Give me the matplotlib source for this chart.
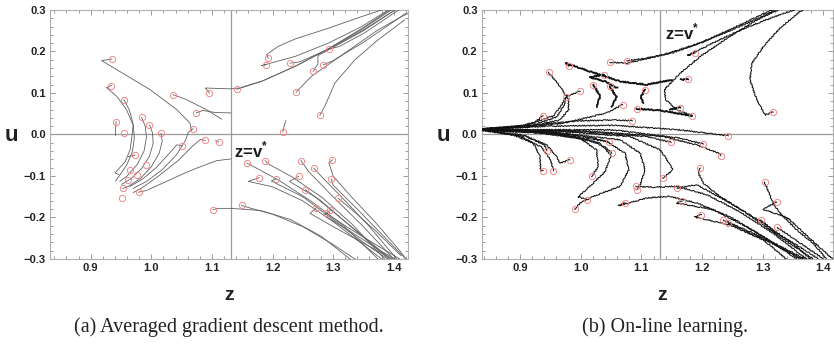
import matplotlib
matplotlib.use('Agg')
import matplotlib.pyplot as plt
from matplotlib.ticker import MultipleLocator, FuncFormatter

V_STAR = 1.131

# (a) averaged gradient descent: trajectories as (z, u) points, first point = start
gd_left_paths = [
    [(0.935, 0.182), (0.918, 0.178), (0.958, 0.143), (0.998, 0.108), (1.042, 0.060), (1.064, 0.027), (1.066, 0.010)],
    [(0.934, 0.118), (0.926, 0.113), (0.943, 0.092), (0.959, 0.060), (0.970, 0.023), (0.968, -0.005),
     (0.965, -0.037), (0.957, -0.065), (0.940, -0.093), (0.946, -0.096)],
    [(0.955, 0.084), (0.964, 0.058), (0.970, 0.025), (0.972, -0.008), (0.969, -0.040), (0.960, -0.072),
     (0.947, -0.100), (0.941, -0.112)],
    [(0.942, 0.031), (0.941, 0.012), (0.941, -0.002)],
    [(0.984, 0.041), (0.990, 0.020), (0.992, -0.006), (0.988, -0.040), (0.977, -0.072), (0.960, -0.100), (0.948, -0.113)],
    [(0.997, 0.023), (1.002, 0.004), (1.003, -0.022), (0.997, -0.052), (0.984, -0.082), (0.966, -0.107), (0.951, -0.120)],
    [(1.016, 0.003), (1.018, -0.016), (1.013, -0.045), (1.000, -0.078), (0.982, -0.106), (0.962, -0.125), (0.953, -0.130)],
    [(1.069, 0.014), (1.061, 0.005), (1.056, -0.015), (1.042, -0.048), (1.018, -0.085), (0.992, -0.113), (0.970, -0.130)],
    [(1.050, -0.027), (1.042, -0.025), (1.030, -0.045), (1.008, -0.080), (0.985, -0.108), (0.965, -0.125)],
    [(1.089, -0.014), (1.081, -0.012), (1.068, -0.028), (1.045, -0.062), (1.012, -0.100), (0.985, -0.128), (0.970, -0.140)],
    [(0.979, -0.139), (0.992, -0.135), (1.025, -0.113), (1.052, -0.095), (1.075, -0.081), (1.108, -0.063), (1.131, -0.059)],
    [(1.036, 0.096), (1.058, 0.084), (1.091, 0.060), (1.116, 0.037)],
    [(1.074, 0.052), (1.085, 0.058), (1.105, 0.053), (1.131, 0.052)],
    [(0.973, -0.050), (0.962, -0.053)],
    [(1.111, -0.018), (1.106, -0.015)],
]
gd_upper_paths = [
    [(1.193, 0.184), (1.190, 0.192), (1.209, 0.212), (1.237, 0.230), (1.292, 0.256), (1.347, 0.284), (1.380, 0.300)],
    [(1.189, 0.168), (1.182, 0.166), (1.237, 0.188), (1.292, 0.220), (1.347, 0.260), (1.391, 0.300)],
    [(1.141, 0.109), (1.182, 0.128), (1.237, 0.164), (1.292, 0.206), (1.347, 0.253), (1.396, 0.300)],
    [(1.096, 0.100), (1.089, 0.112), (1.131, 0.110), (1.145, 0.112), (1.185, 0.130), (1.240, 0.166),
     (1.294, 0.208), (1.348, 0.256), (1.393, 0.300)],
    [(1.229, 0.172), (1.245, 0.175), (1.294, 0.207), (1.350, 0.252), (1.400, 0.298)],
    [(1.294, 0.206), (1.310, 0.212), (1.352, 0.245), (1.408, 0.300)],
    [(1.267, 0.152), (1.275, 0.170), (1.275, 0.190), (1.300, 0.210), (1.350, 0.250), (1.402, 0.300)],
    [(1.284, 0.168), (1.300, 0.178), (1.350, 0.222), (1.420, 0.292)],
    [(1.239, 0.102), (1.264, 0.140), (1.319, 0.196), (1.374, 0.252), (1.413, 0.284), (1.424, 0.292)],
    [(1.278, 0.046), (1.286, 0.067), (1.303, 0.124), (1.336, 0.180), (1.374, 0.228), (1.418, 0.276)],
    [(1.217, 0.006), (1.219, 0.020), (1.222, 0.033)],
]
gd_lower_paths = [
    [(1.102, -0.181), (1.110, -0.178), (1.131, -0.178), (1.180, -0.183), (1.230, -0.205), (1.280, -0.245), (1.328, -0.300)],
    [(1.149, -0.171), (1.165, -0.178), (1.200, -0.192), (1.250, -0.222), (1.300, -0.265), (1.336, -0.300)],
    [(1.158, -0.069), (1.209, -0.109), (1.264, -0.161), (1.319, -0.222), (1.374, -0.300)],
    [(1.188, -0.063), (1.192, -0.070), (1.232, -0.102), (1.282, -0.152), (1.332, -0.217), (1.385, -0.300)],
    [(1.178, -0.104), (1.160, -0.113), (1.200, -0.126), (1.250, -0.160), (1.300, -0.210), (1.350, -0.266), (1.380, -0.300)],
    [(1.206, -0.107), (1.198, -0.112), (1.250, -0.150), (1.300, -0.205), (1.350, -0.260), (1.390, -0.300)],
    [(1.247, -0.063), (1.260, -0.090), (1.300, -0.150), (1.350, -0.222), (1.400, -0.300)],
    [(1.268, -0.081), (1.280, -0.100), (1.320, -0.160), (1.360, -0.222), (1.405, -0.300)],
    [(1.299, -0.061), (1.293, -0.068), (1.300, -0.100), (1.330, -0.150), (1.370, -0.212), (1.410, -0.280), (1.420, -0.300)],
    [(1.243, -0.101), (1.228, -0.113), (1.270, -0.150), (1.320, -0.210), (1.370, -0.270), (1.395, -0.300)],
    [(1.297, -0.107), (1.300, -0.122), (1.340, -0.180), (1.380, -0.240), (1.420, -0.300)],
    [(1.254, -0.133), (1.280, -0.160), (1.320, -0.210), (1.360, -0.260), (1.392, -0.300)],
    [(1.308, -0.153), (1.330, -0.180), (1.370, -0.232), (1.412, -0.292)],
    [(1.272, -0.177), (1.262, -0.190), (1.300, -0.222), (1.350, -0.262), (1.398, -0.300)],
    [(1.295, -0.183), (1.285, -0.195), (1.330, -0.235), (1.378, -0.280), (1.402, -0.300)],
    [(1.288, -0.189), (1.320, -0.220), (1.370, -0.265), (1.410, -0.300)],
]
gd_lone_starts = [(0.955, 0.003), (0.992, -0.073), (0.965, -0.085), (0.976, -0.097),
                  (0.961, -0.109), (0.953, -0.129), (0.951, -0.152)]

# (b) on-line learning trajectories
ol_upper_paths = [
    [(1.048, 0.174), (1.076, 0.172), (1.131, 0.190), (1.191, 0.218), (1.246, 0.250), (1.300, 0.285), (1.322, 0.300)],
    [(1.076, 0.178), (1.100, 0.182), (1.150, 0.196), (1.200, 0.222), (1.250, 0.256), (1.300, 0.290), (1.315, 0.300)],
    [(1.188, 0.196), (1.176, 0.190), (1.220, 0.222), (1.270, 0.256), (1.330, 0.290), (1.352, 0.300)],
    [(1.317, 0.054), (1.304, 0.047), (1.290, 0.084), (1.279, 0.132), (1.282, 0.172), (1.301, 0.212),
     (1.328, 0.256), (1.361, 0.296), (1.366, 0.300)],
    [(1.184, 0.045), (1.158, 0.060), (1.140, 0.084), (1.138, 0.108), (1.164, 0.148), (1.197, 0.188),
     (1.241, 0.232), (1.290, 0.276), (1.325, 0.300)],
]
# dense (heavier) strokes around the saddle
ol_saddle_paths = [
    [(0.980, 0.166), (0.975, 0.172), (1.015, 0.152), (1.065, 0.128), (1.109, 0.120), (1.150, 0.132)],
    [(1.038, 0.144), (1.015, 0.138), (1.040, 0.128), (1.060, 0.112)],
    [(1.021, 0.120), (1.032, 0.092), (1.026, 0.067)],
    [(1.048, 0.116), (1.059, 0.090), (1.051, 0.067)],
    [(1.106, 0.108), (1.099, 0.090), (1.103, 0.076)],
    [(1.164, 0.065), (1.147, 0.060)],
    [(1.177, 0.133), (1.165, 0.132)],
    [(1.092, 0.062), (1.131, 0.058), (1.183, 0.045)],
]
ol_left_paths = [
    [(0.947, 0.150), (0.966, 0.116), (0.980, 0.084), (0.980, 0.060), (0.966, 0.035), (0.916, 0.019), (0.834, 0.013)],
    [(0.999, 0.104), (0.977, 0.092), (0.972, 0.068), (0.960, 0.042), (0.920, 0.022), (0.834, 0.013)],
    [(0.976, 0.090), (0.968, 0.070), (0.955, 0.045), (0.910, 0.022), (0.834, 0.013)],
    [(1.085, 0.033), (1.054, 0.035), (0.999, 0.033), (0.916, 0.022), (0.834, 0.013)],
    [(1.069, 0.072), (1.043, 0.052), (0.971, 0.027), (0.900, 0.016), (0.834, 0.013)],
    [(1.243, -0.003), (1.164, 0.011), (1.054, 0.022), (0.947, 0.020), (0.834, 0.013)],
    [(0.938, 0.045), (0.925, 0.030), (0.890, 0.017), (0.834, 0.013)],
    [(0.938, -0.087), (0.934, -0.089), (0.933, -0.053), (0.922, -0.021), (0.889, -0.001), (0.834, 0.011)],
    [(0.982, -0.061), (0.966, -0.069), (0.960, -0.053), (0.944, -0.025), (0.905, -0.001), (0.834, 0.011)],
    [(0.955, -0.087), (0.950, -0.060), (0.935, -0.030), (0.900, -0.004), (0.834, 0.011)],
    [(1.018, -0.101), (1.029, -0.077), (1.026, -0.037), (0.999, -0.009), (0.920, 0.006), (0.834, 0.011)],
    [(0.990, -0.180), (0.999, -0.165), (1.021, -0.149), (1.065, -0.125), (1.079, -0.085), (1.073, -0.045),
     (1.043, -0.017), (0.950, 0.004), (0.834, 0.011)],
    [(1.092, -0.133), (1.098, -0.121), (1.106, -0.085), (1.098, -0.045), (1.065, -0.013), (0.950, 0.006), (0.834, 0.011)],
    [(1.135, -0.105), (1.142, -0.097), (1.152, -0.085), (1.144, -0.065), (1.131, -0.037), (1.081, -0.005),
     (0.960, 0.008), (0.834, 0.011)],
    [(1.149, -0.019), (1.109, -0.005), (0.999, 0.007), (0.834, 0.012)],
    [(1.202, -0.023), (1.164, -0.009), (1.054, 0.011), (0.834, 0.012)],
    [(1.231, -0.051), (1.227, -0.045), (1.191, -0.025), (1.136, -0.005), (1.000, 0.009), (0.834, 0.012)],
    [(1.051, -0.045), (1.040, -0.030), (1.010, -0.012), (0.930, 0.004), (0.834, 0.011)],
    [(1.046, -0.019), (1.020, -0.008), (0.950, 0.006), (0.834, 0.011)],
    [(0.944, -0.039), (0.940, -0.025), (0.910, -0.005), (0.834, 0.011)],
    [(1.010, -0.157), (0.996, -0.150), (1.015, -0.125), (1.040, -0.090), (1.050, -0.050), (1.030, -0.020),
     (0.960, 0.002), (0.834, 0.011)],
]
ol_lower_paths = [
    [(1.073, -0.165), (1.062, -0.172), (1.109, -0.153), (1.147, -0.149), (1.191, -0.165), (1.246, -0.198),
     (1.301, -0.246), (1.356, -0.300)],
    [(1.091, -0.125), (1.120, -0.127), (1.158, -0.125), (1.208, -0.145), (1.262, -0.186), (1.317, -0.238), (1.372, -0.300)],
    [(1.197, -0.081), (1.194, -0.093), (1.202, -0.117), (1.229, -0.149), (1.273, -0.189), (1.328, -0.246), (1.383, -0.300)],
    [(1.159, -0.129), (1.191, -0.121), (1.246, -0.165), (1.301, -0.213), (1.356, -0.270), (1.378, -0.300)],
    [(1.167, -0.161), (1.158, -0.165), (1.218, -0.181), (1.273, -0.222), (1.328, -0.270), (1.361, -0.300)],
    [(1.199, -0.193), (1.188, -0.199), (1.246, -0.218), (1.301, -0.254), (1.339, -0.300)],
    [(1.235, -0.206), (1.280, -0.235), (1.330, -0.270), (1.370, -0.300)],
    [(1.243, -0.213), (1.290, -0.245), (1.340, -0.280), (1.365, -0.300)],
    [(1.297, -0.206), (1.320, -0.235), (1.360, -0.270), (1.392, -0.300)],
    [(1.303, -0.115), (1.317, -0.165), (1.328, -0.189), (1.356, -0.230), (1.383, -0.262), (1.405, -0.300)],
    [(1.323, -0.163), (1.300, -0.180), (1.340, -0.200), (1.370, -0.240), (1.400, -0.280), (1.415, -0.300)],
    [(1.324, -0.224), (1.350, -0.250), (1.390, -0.290), (1.400, -0.300)],
]

x_ticks = [0.9, 1.0, 1.1, 1.2, 1.3, 1.4]
y_ticks = [-0.3, -0.2, -0.1, 0.0, 0.1, 0.2, 0.3]
captions = ['(a) Averaged gradient descent method.', '(b) On-line learning.']

START_STYLE = dict(marker='o', ls='none', mfc='none', mec='#ee8888', ms=4.5, mew=0.7, zorder=4)


def fmt(v, _):
    s = '%.1f' % v
    if s == '-0.0':
        s = '0.0'
    return s.replace('-', '\u2212')


def setup(ax, xlim, zx=0.5):
    ax.set_xlim(*xlim)
    ax.set_ylim(-0.3, 0.3)
    ax.set_xticks(x_ticks)
    ax.set_yticks(y_ticks)
    ax.xaxis.set_minor_locator(MultipleLocator(0.02))
    ax.yaxis.set_minor_locator(MultipleLocator(0.02))
    ax.xaxis.set_major_formatter(FuncFormatter(fmt))
    ax.yaxis.set_major_formatter(FuncFormatter(fmt))
    ax.tick_params(which='both', direction='in', top=True, right=True, color='#9a9a9a', width=0.7)
    ax.tick_params(which='major', length=3.5, labelsize=8, labelcolor='#222222', pad=3)
    ax.tick_params(which='minor', length=2)
    for lab in ax.get_xticklabels() + ax.get_yticklabels():
        lab.set_fontweight('bold')
        lab.set_family('Liberation Sans')
    for sp in ax.spines.values():
        sp.set_color('#b0b0b0')
        sp.set_linewidth(0.8)
    ax.axhline(0.0, color='#9a9a9a', lw=0.9, zorder=1)
    ax.axvline(V_STAR, color='#9a9a9a', lw=0.9, zorder=1)
    ax.text(zx, -0.145, 'z', transform=ax.transAxes, ha='center', va='center',
            fontsize=14, fontweight='bold', family='Liberation Sans', color='#222222')
    ax.text(-0.108, 0.494, 'u', transform=ax.transAxes, ha='center', va='center',
            fontsize=16, fontweight='bold', family='Liberation Sans', color='#222222')


def draw_paths(ax, paths, **kw):
    lines = []
    for p in paths:
        zs, us = zip(*p)
        ln, = ax.plot(zs, us, **kw)
        lines.append(ln)
        ax.plot(zs[0], us[0], **START_STYLE)
    return lines


plt.rcParams['mathtext.fontset'] = 'custom'
plt.rcParams['mathtext.bf'] = 'Liberation Sans:bold'
plt.rcParams['mathtext.rm'] = 'Liberation Sans:bold'

fig = plt.figure(figsize=(8.34, 3.48), dpi=100)
ax_a = fig.add_axes([0.05995, 0.25575, 0.42926, 0.71552])
ax_b = fig.add_axes([0.57758, 0.25575, 0.42122, 0.71552])

setup(ax_a, (0.8328, 1.4236))
setup(ax_b, (0.8369, 1.4157), zx=0.515)

vstar_label = r'z=v$^{\mathrm{*}}$'
vstar_kw = dict(fontsize=12, fontweight='bold', family='Liberation Sans',
                va='center', ha='left', color='#1a1a1a')

gd_style = dict(color='#606060', lw=0.6, zorder=3)
draw_paths(ax_a, gd_left_paths, **gd_style)
draw_paths(ax_a, gd_upper_paths, **gd_style)
draw_paths(ax_a, gd_lower_paths, **gd_style)
zs, us = zip(*gd_lone_starts)
ax_a.plot(zs, us, **START_STYLE)
ax_a.text(1.137, -0.037, vstar_label, **vstar_kw)

ol_style = dict(color='#111111', lw=0.75, zorder=3)
for group in (ol_upper_paths, ol_left_paths, ol_lower_paths):
    for ln in draw_paths(ax_b, group, **ol_style):
        ln.set_sketch_params(0.6, 2.5, 2)
for ln in draw_paths(ax_b, ol_saddle_paths, color='#111111', lw=1.3, zorder=3):
    ln.set_sketch_params(0.6, 2.5, 2)
ax_b.text(1.139, 0.246, vstar_label, **vstar_kw)

fig.text(229 / 834, 1 - 327 / 348, captions[0], ha='center', va='center',
         family='Liberation Serif', fontsize=14.5, color='#222222')
fig.text(665 / 834, 1 - 327 / 348, captions[1], ha='center', va='center',
         family='Liberation Serif', fontsize=14.5, color='#222222')

fig.savefig('out.png', dpi=100)
